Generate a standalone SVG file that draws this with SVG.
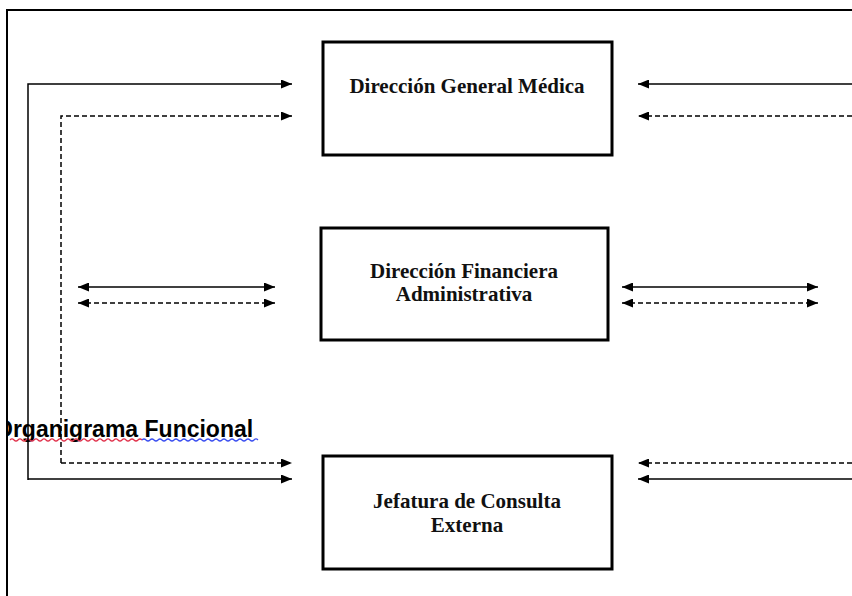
<svg xmlns="http://www.w3.org/2000/svg" width="852" height="596" viewBox="0 0 852 596">
<defs>
<style>
.box{fill:#fff;stroke:#000;stroke-width:3}
.lbl{font-family:"Liberation Serif","Times New Roman",serif;font-weight:bold;font-size:21px;fill:#111;text-anchor:middle}
.c{fill:none;stroke:#000;stroke-width:1.5}
.d{stroke-dasharray:5,3}
</style>
<marker id="ah" viewBox="0 0 11 9" refX="11" refY="4.5" markerWidth="11" markerHeight="9" markerUnits="userSpaceOnUse" orient="auto-start-reverse">
<path d="M0,0 L11,4.5 L0,9 z" fill="#000"/>
</marker>
<clipPath id="clipT"><rect x="8" y="400" width="400" height="60"/></clipPath>
</defs>
<rect x="0" y="0" width="852" height="596" fill="#fff"/>
<g id="title" clip-path="url(#clipT)">
<text x="-5" y="437" font-family="Liberation Sans, Arial, sans-serif" font-weight="bold" font-size="23" fill="#000">Organigrama Funcional</text>
<path d="M10,440 q2,-2 4,0 t4,0 t4,0 t4,0 t4,0 t4,0 t4,0 t4,0 t4,0 t4,0 t4,0 t4,0 t4,0 t4,0 t4,0 t4,0 t4,0 t4,0 t4,0 t4,0 t4,0 t4,0 t4,0 t4,0 t4,0 t4,0 t4,0 t4,0 t4,0 t4,0 t4,0 t4,0 t4,0" fill="none" stroke="#e0304a" stroke-width="1.2"/>
<path d="M142,440 q2,-2 4,0 t4,0 t4,0 t4,0 t4,0 t4,0 t4,0 t4,0 t4,0 t4,0 t4,0 t4,0 t4,0 t4,0 t4,0 t4,0 t4,0 t4,0 t4,0 t4,0 t4,0 t4,0 t4,0 t4,0 t4,0 t4,0 t4,0 t4,0 t4,0" fill="none" stroke="#3a4ef0" stroke-width="1.2"/>
</g>
<g id="frame" fill="none" stroke="#000" stroke-width="2">
<path d="M7,596 L7,10 L852,10"/>
</g>
<g id="connectors">
<path class="c" d="M28,480 L28,84 L292,84" marker-end="url(#ah)"/>
<path class="c d" d="M61,463 L61,116 L292,116" marker-end="url(#ah)"/>
<path class="c" d="M28,479 L292,479" marker-end="url(#ah)"/>
<path class="c d" d="M61,463 L292,463" marker-end="url(#ah)"/>
<path class="c" d="M852,84 L638,84" marker-end="url(#ah)"/>
<path class="c d" d="M852,116 L638,116" marker-end="url(#ah)"/>
<path class="c d" d="M852,463 L638,463" marker-end="url(#ah)"/>
<path class="c" d="M852,479 L638,479" marker-end="url(#ah)"/>
<path class="c" d="M78,287 L275,287" marker-start="url(#ah)" marker-end="url(#ah)"/>
<path class="c d" d="M78,303 L275,303" marker-start="url(#ah)" marker-end="url(#ah)"/>
<path class="c" d="M622,287 L818,287" marker-start="url(#ah)" marker-end="url(#ah)"/>
<path class="c d" d="M622,303 L818,303" marker-start="url(#ah)" marker-end="url(#ah)"/>
</g>
<g id="n1">
<rect class="box" x="323" y="42" width="289" height="113"/>
<text class="lbl" x="467" y="93">Dirección General Médica</text>
</g>
<g id="n2">
<rect class="box" x="321" y="228" width="287" height="112"/>
<text class="lbl" x="464" y="278">Dirección Financiera</text>
<text class="lbl" x="464" y="301">Administrativa</text>
</g>
<g id="n3">
<rect class="box" x="323" y="456" width="289" height="113"/>
<text class="lbl" x="467" y="508">Jefatura de Consulta</text>
<text class="lbl" x="467" y="532">Externa</text>
</g>
</svg>
